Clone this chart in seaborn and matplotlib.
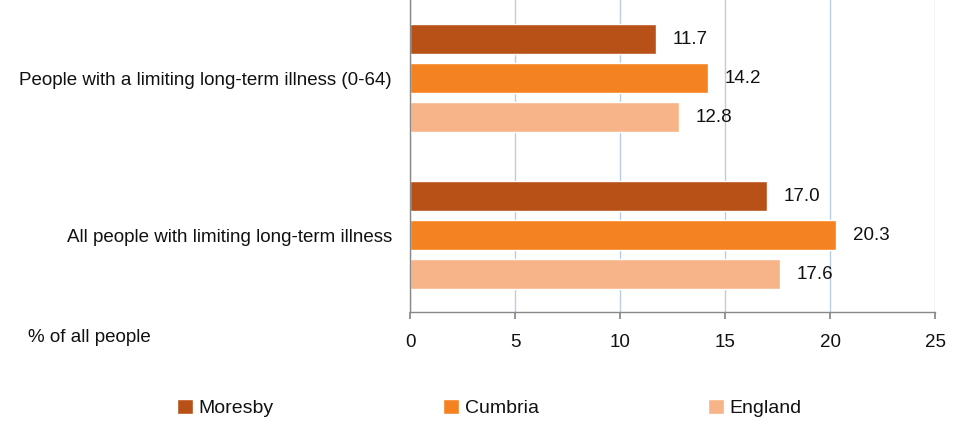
import pandas as pd
import matplotlib
matplotlib.use("Agg")
import matplotlib.pyplot as plt
import seaborn as sns

categories = ["People with a limiting long-term illness (0-64)",
              "All people with limiting long-term illness"]
areas = ["Moresby", "Cumbria", "England"]
moresby = [11.7, 17.0]
cumbria = [14.2, 20.3]
england = [12.8, 17.6]
colors = ["#B85117", "#F58220", "#F7B488"]

rows = []
for area, vals in zip(areas, [moresby, cumbria, england]):
    for cat, v in zip(categories, vals):
        rows.append({"category": cat, "area": area, "value": v})
df = pd.DataFrame(rows)

sns.set_theme(style="white")
plt.rcParams["font.family"] = ["Liberation Sans", "DejaVu Sans"]
fs = 13.5

fig = plt.figure(figsize=(9.68, 4.24), dpi=100)
ax = fig.add_axes([0.4236, 0.264, 0.5424, 0.736])

sns.barplot(data=df, y="category", x="value", hue="area", hue_order=areas,
            palette=colors, orient="h", width=0.745, gap=0.23,
            saturation=1, ax=ax, legend=True)

for container in ax.containers:
    ax.bar_label(container, fmt="%.1f", padding=12, fontsize=fs, color="#111111")

ax.set_xlim(0, 25)
ax.set_ylim(1.49, -0.5)
ax.set_xticks([0, 5, 10, 15, 20, 25])
ax.xaxis.grid(True, color="#B9CDE5", linewidth=1)
ax.yaxis.grid(False)
ax.set_axisbelow(True)
for s in ["top", "right"]:
    ax.spines[s].set_visible(False)
for s in ["left", "bottom"]:
    ax.spines[s].set_color("#888888")
    ax.spines[s].set_linewidth(1)
ax.tick_params(axis="x", length=5, color="#888888", direction="out",
               bottom=True, pad=11, labelsize=fs, labelcolor="#111111")
ax.tick_params(axis="y", length=0, pad=13, labelsize=fs, labelcolor="#111111")
ax.set_xlabel("")
ax.set_ylabel("")

fig.text(28 / 968, 1 - 338 / 424, "% of all people", fontsize=fs,
         va="center", ha="left", color="#111111")

handles, labels = ax.get_legend_handles_labels()
ax.get_legend().remove()
leg = fig.legend(handles, labels, loc="center left",
                 bbox_to_anchor=(177 / 968, 1 - 408 / 424),
                 ncol=3, frameon=False, fontsize=14, columnspacing=8.7,
                 handlelength=0.82, handleheight=0.82, handletextpad=0.3,
                 borderpad=0, borderaxespad=0)
for t in leg.get_texts():
    t.set_color("#111111")

fig.savefig("out.png", dpi=100)
